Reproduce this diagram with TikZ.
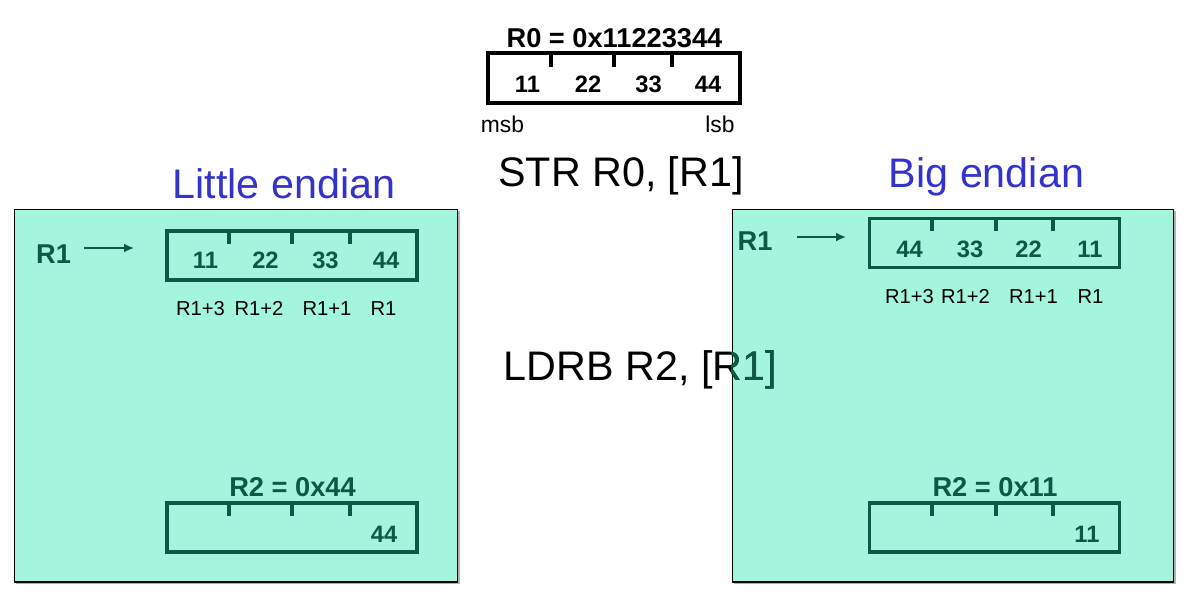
\documentclass[tikz,border=0pt]{standalone}
\usepackage{fontspec}
\setmainfont{Liberation Sans}
\usepackage{xcolor}
\usetikzlibrary{arrows.meta,positioning}

\definecolor{mint}{RGB}{163,245,222}
\definecolor{regink}{RGB}{10,90,70}
\definecolor{titleblue}{RGB}{51,51,204}

\begin{document}
\begin{tikzpicture}[
  x=0.02cm, y=-0.02cm,
  panel/.style={draw=black, line width=0.6pt, fill=mint,
    minimum height=7.46cm, inner sep=0pt},
  regbox/.style={draw=regink, line width=2.2pt, minimum width=5cm,
    minimum height=0.98cm, inner sep=0pt},
  tick/.style={draw=regink, line width=2.2pt},
  byte/.style={font=\fontsize{13.5}{14}\selectfont\bfseries, text=regink,
    anchor=base, inner sep=0pt},
  addr/.style={font=\fontsize{11.5}{12}\selectfont, anchor=base, inner sep=0pt},
  heading/.style={font=\fontsize{15.5}{16}\selectfont\bfseries, text=regink,
    anchor=base, inner sep=0pt},
  endian/.style={font=\fontsize{23.5}{24}\selectfont, text=titleblue,
    anchor=base, inner sep=0pt},
  instr/.style={font=\fontsize{23.5}{24}\selectfont, anchor=base, inner sep=0pt},
  ptr/.style={-{Latex[length=2mm,width=1.8mm]}, draw=regink, line width=1pt}
]
\useasboundingbox (0,0) rectangle (1194,596);

% register R0
\node[heading, text=black] (r0title) at (614.5,47) {R0 = 0x11223344};
\node[regbox, draw=black, minimum width=5.04cm, minimum height=1cm]
  (r0box) at (614,78) {};
\foreach \x in {551,614,672}
  \draw[tick, draw=black] (\x,53) -- (\x,67);
\foreach \x/\v [count=\i] in {527.5/11,588/22,648.5/33,708/44}
  \node[byte, text=black] (r0b\i) at (\x,92) {\v};
\node[addr, font=\fontsize{13}{13}\selectfont] (msb) at (502.5,132) {msb};
\node[addr, font=\fontsize{13}{13}\selectfont] (lsb) at (720,132) {lsb};

\node[instr] (str) at (621,186) {STR R0, [R1]};

% panels
\fill[black!30] (16,211) rectangle (460,584);
\fill[black!30] (734,211) rectangle (1176,584);
\node[panel, minimum width=8.88cm] (lpanel) at (236,395.5) {};
\node[panel, minimum width=8.84cm] (rpanel) at (953,395.5) {};

\node[endian] (ltitle) at (284,198) {Little endian};
\node[endian] (btitle) at (986.5,187) {Big endian};

% LDRB, partly over the right panel
\node[instr] (ldrb) at (640.5,380) {LDRB R2, [R1]};
\begin{scope}
  \clip (rpanel.north west) rectangle (rpanel.south east);
  \node[instr, text=regink] (ldrbin) at (640.5,380) {LDRB R2, [R1]};
\end{scope}

% little endian memory
\node[heading] (lr1) at (53.5,263) {R1};
\coordinate (lptrA) at (84,248);
\coordinate (lptrB) at (134,248);
\draw[ptr] (lptrA) -- (lptrB);
\node[regbox] (lmem) at (292,255.5) {};
\foreach \x in {229,292,350}
  \draw[tick] (\x,231) -- (\x,244);
\foreach \x/\v [count=\i] in {205.5/11,265.5/22,325.5/33,386/44}
  \node[byte] (lm\i) at (\x,268) {\v};
\foreach \x/\v [count=\i] in {200.5/R1+3,259/R1+2,327/R1+1,383.5/R1}
  \node[addr] (la\i) at (\x,315) {\v};

\node[heading] (lr2title) at (292.5,496) {R2 = 0x44};
\node[regbox] (lr2) at (292,527.5) {};
\foreach \x in {229,292,350}
  \draw[tick] (\x,503) -- (\x,516);
\node[byte] (lr2b) at (384,542) {44};

% big endian memory
\node[heading] (br1) at (755,250) {R1};
\coordinate (bptrA) at (797,237);
\coordinate (bptrB) at (846,237);
\draw[ptr] (bptrA) -- (bptrB);
\node[regbox] (bmem) at (994.5,243) {};
\foreach \x in {932,996,1053}
  \draw[tick] (\x,218) -- (\x,231);
\foreach \x/\v [count=\i] in {909.5/44,970/33,1028.5/22,1090/11}
  \node[byte] (bm\i) at (\x,257) {\v};
\foreach \x/\v [count=\i] in {909.5/R1+3,965.5/R1+2,1033.5/R1+1,1090.5/R1}
  \node[addr] (ba\i) at (\x,303) {\v};

\node[heading] (br2title) at (995,496) {R2 = 0x11};
\node[regbox] (br2) at (994.5,527.5) {};
\foreach \x in {932,996,1053}
  \draw[tick] (\x,503) -- (\x,516);
\node[byte] (br2b) at (1087,542) {11};
\end{tikzpicture}
\end{document}
